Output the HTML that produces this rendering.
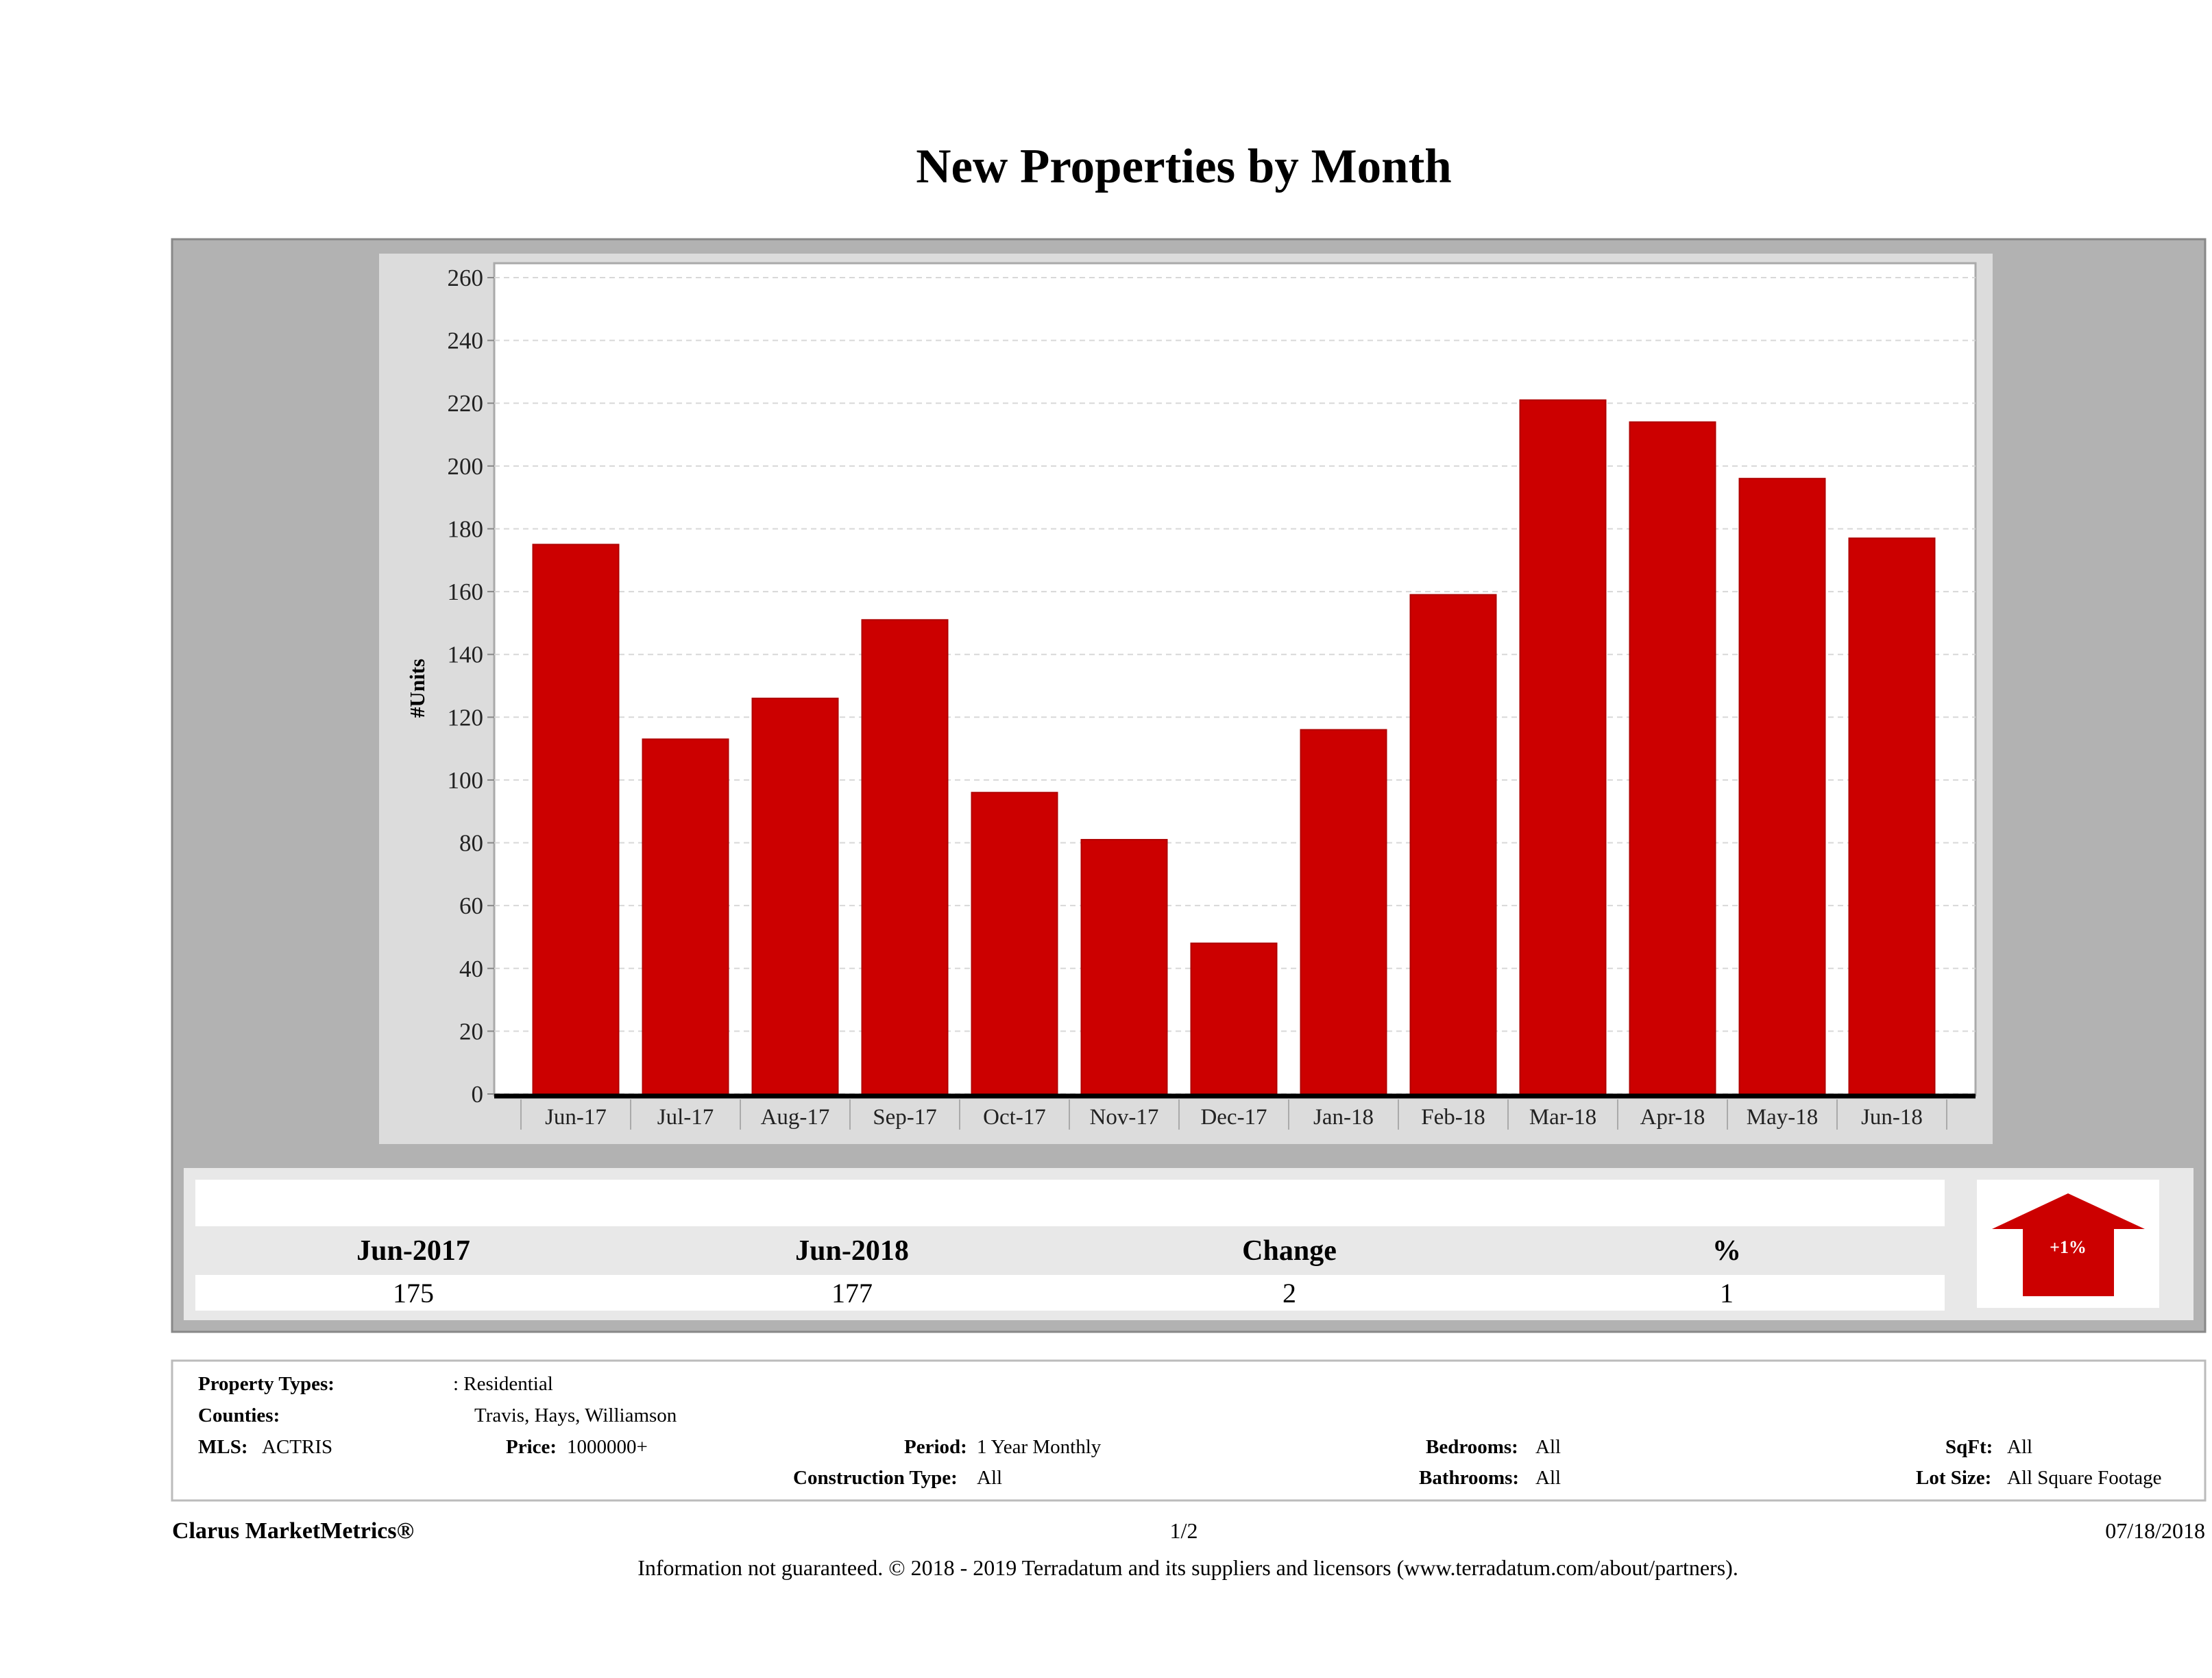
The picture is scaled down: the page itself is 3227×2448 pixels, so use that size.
<!DOCTYPE html>
<html><head><meta charset="utf-8"><style>
body{margin:0;background:#fff;width:3227px;height:2448px;overflow:hidden;font-family:"Liberation Serif",serif;}
svg{position:absolute;left:0;top:0}
</style></head><body>
<svg width="3227" height="2448" viewBox="0 0 3227 2448">
<text x="1727" y="266" text-anchor="middle" font-size="71" font-weight="bold" font-family="Liberation Serif,serif">New Properties by Month</text>
<rect x="251" y="349" width="2966" height="1594" fill="#b2b2b2" stroke="#888" stroke-width="3"/>
<rect x="553" y="370" width="2354" height="1299" fill="#dcdcdc"/>
<g id="chart"></g>
<rect x="268" y="1704" width="2932" height="222" fill="#e8e8e8"/>
<rect x="285" y="1721" width="2552" height="68" fill="#fff"/>
<rect x="285" y="1860" width="2552" height="52" fill="#fff"/>
<g font-size="42" font-weight="bold" text-anchor="middle">
<text x="603" y="1838">Jun-2017</text><text x="1243" y="1838">Jun-2018</text><text x="1881" y="1838">Change</text><text x="2519" y="1838">%</text></g>
<g font-size="40" text-anchor="middle">
<text x="603" y="1900">175</text><text x="1243" y="1900">177</text><text x="1881" y="1900">2</text><text x="2519" y="1900">1</text></g>
<rect x="2884" y="1721" width="266" height="187" fill="#fff"/>
<polygon points="2906,1793 3129,1793 3017,1741" fill="#cc0000"/>
<rect x="2951" y="1792" width="133" height="99" fill="#cc0000"/>
<text x="3017" y="1828" fill="#fff" font-size="26" font-weight="bold" text-anchor="middle">+1%</text>
<rect x="251" y="1985" width="2966" height="204" fill="#fff" stroke="#bbb" stroke-width="3"/>
<g font-size="29">
<text x="289" y="2028" font-weight="bold">Property Types:</text><text x="661" y="2028">: Residential</text>
<text x="289" y="2074" font-weight="bold">Counties:</text><text x="692" y="2074">Travis, Hays, Williamson</text>
<text x="289" y="2120" font-weight="bold">MLS:</text><text x="382" y="2120">ACTRIS</text>
<text x="738" y="2120" font-weight="bold">Price:</text><text x="827" y="2120">1000000+</text>
<text x="1319" y="2120" font-weight="bold">Period:</text><text x="1425" y="2120">1 Year Monthly</text>
<text x="2080" y="2120" font-weight="bold">Bedrooms:</text><text x="2240" y="2120">All</text>
<text x="2838" y="2120" font-weight="bold">SqFt:</text><text x="2928" y="2120">All</text>
<text x="1157" y="2165" font-weight="bold">Construction Type:</text><text x="1425" y="2165">All</text>
<text x="2070" y="2165" font-weight="bold">Bathrooms:</text><text x="2240" y="2165">All</text>
<text x="2795" y="2165" font-weight="bold">Lot Size:</text><text x="2928" y="2165">All Square Footage</text>
</g>
<text x="251" y="2244" font-size="34" font-weight="bold">Clarus MarketMetrics®</text>
<text x="1727" y="2244" font-size="32" text-anchor="middle">1/2</text>
<text x="3217" y="2244" font-size="32" text-anchor="end">07/18/2018</text>
<text x="1733" y="2298" font-size="32" text-anchor="middle">Information not guaranteed. © 2018 - 2019 Terradatum and its suppliers and licensors (www.terradatum.com/about/partners).</text>
</svg>
<script>
const categories=["Jun-17","Jul-17","Aug-17","Sep-17","Oct-17","Nov-17","Dec-17","Jan-18","Feb-18","Mar-18","Apr-18","May-18","Jun-18"];
const values=[175,113,126,151,96,81,48,116,159,221,214,196,177];
const yTicks=[0,20,40,60,80,100,120,140,160,180,200,220,240,260];
const NS="http://www.w3.org/2000/svg";
const g=document.getElementById('chart');
const L=721,R=2882,T=384,B=1598,y0=1596,yTop=405;
const ys=v=>y0-(v/260)*(y0-yTop);
const step=160,first=840,bw=125;
const xs=i=>first+i*step;
function mk(t,a,p){const e=document.createElementNS(NS,t);for(const k in a)e.setAttribute(k,a[k]);(p||g).appendChild(e);return e;}
const bg=mk('rect',{x:L,y:T,width:R-L,height:B-T,fill:'#fff',stroke:'#aaa','stroke-width':3});


yTicks.forEach(v=>{
 const y=ys(v);
 const gl=mk('line',{x1:L,x2:R,y1:y,y2:y,stroke:'#d8d8d8','stroke-width':2,'stroke-dasharray':'8,6'});
 
 
 const tk=mk('line',{x1:L-10,x2:L,y1:y,y2:y,stroke:'#888','stroke-width':2});
 
 
 const t=mk('text',{x:L-16,y:y+12,'text-anchor':'end','font-size':35,fill:'#222'});
 t.textContent=v;
 
 
});
values.forEach((v,i)=>{
 const r=mk('rect',{x:xs(i)-bw/2,y:ys(v),width:bw,height:y0-ys(v),fill:'#cc0000',stroke:'#b00000','stroke-width':2});
 
 
});
const ax=mk('line',{x1:L,x2:R,y1:y0+3,y2:y0+3,stroke:'#000','stroke-width':7});


categories.forEach((c,i)=>{
 const s=mk('line',{x1:xs(i)-step/2,x2:xs(i)-step/2,y1:1604,y2:1648,stroke:'#aaa','stroke-width':2});
 
 
 const t=mk('text',{x:xs(i),y:1640,'text-anchor':'middle','font-size':33,fill:'#222'});
 t.textContent=c;
 
 
});
const sl=mk('line',{x1:xs(12)+step/2,x2:xs(12)+step/2,y1:1604,y2:1648,stroke:'#aaa','stroke-width':2});


const yt=mk('text',{x:0,y:0,transform:'translate(619,1004) rotate(-90)','text-anchor':'middle','font-size':31,'font-weight':'bold'});
yt.textContent='#Units';


</script>
</body></html>
